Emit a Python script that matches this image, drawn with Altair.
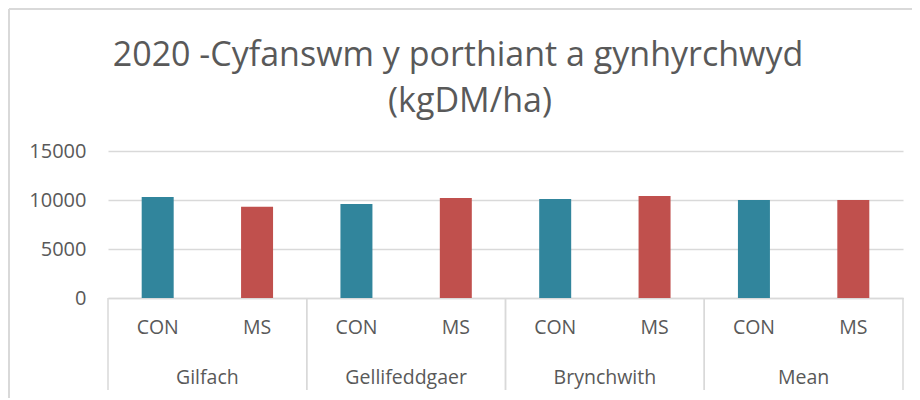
import altair as alt
import pandas as pd

groups = ["Gilfach", "Gellifeddgaer", "Brynchwith", "Mean"]
treatments = ["CON", "MS"]
con_values = [10300, 9600, 10100, 10000]
ms_values = [9300, 10200, 10400, 10000]
title_lines = ["2020 -Cyfanswm y porthiant a gynhyrchwyd", "(kgDM/ha)"]
colors = {"CON": "#31859C", "MS": "#C0504D"}

rows = []
for g, c, m in zip(groups, con_values, ms_values):
    rows.append({"group": g, "treat": "CON", "key": g + "|CON", "value": c})
    rows.append({"group": g, "treat": "MS", "key": g + "|MS", "value": m})
df = pd.DataFrame(rows)
gdf = pd.DataFrame({"group": groups})
keys = list(df["key"])

FONT = "Open Sans"
GRAY = "#595959"
LINE = "#D9D9D9"
W, H = 795, 147

bars = alt.Chart(df).mark_bar().encode(
    x=alt.X("key:N", sort=keys, title=None,
            scale=alt.Scale(paddingInner=0.678, paddingOuter=0.339),
            axis=alt.Axis(labelExpr="split(datum.value, '|')[1]", labelAngle=0,
                          ticks=False, tickSize=0, labelPadding=20,
                          labelFontSize=19.5, labelColor=GRAY, labelFont=FONT,
                          domainColor=LINE, domainWidth=1.5, grid=False)),
    y=alt.Y("value:Q", title=None,
            scale=alt.Scale(domain=[0, 15000]),
            axis=alt.Axis(values=[0, 5000, 10000, 15000], format="d", ticks=False,
                          domain=False, labelPadding=22, labelFontSize=20,
                          labelColor=GRAY, labelFont=FONT, gridColor=LINE,
                          gridWidth=1.5)),
    color=alt.Color("treat:N", legend=None,
                    scale=alt.Scale(domain=treatments,
                                    range=[colors[t] for t in treatments])),
)

gx = alt.X("group:N", sort=groups, axis=None,
           scale=alt.Scale(paddingInner=0, paddingOuter=0))

group_labels = alt.Chart(gdf).mark_text(
    font=FONT, fontSize=19.5, color=GRAY, baseline="middle"
).encode(x=gx, y=alt.value(227), text="group:N")

sep_left = alt.Chart(gdf).mark_rule(color=LINE, strokeWidth=1.5).encode(
    x=alt.X("group:N", sort=groups, axis=None, bandPosition=0,
            scale=alt.Scale(paddingInner=0, paddingOuter=0)),
    y=alt.value(H), y2=alt.value(239))
sep_right = alt.Chart(gdf).mark_rule(color=LINE, strokeWidth=1.5).encode(
    x=alt.X("group:N", sort=groups, axis=None, bandPosition=1,
            scale=alt.Scale(paddingInner=0, paddingOuter=0)),
    y=alt.value(H), y2=alt.value(239))

title1 = alt.Chart(pd.DataFrame({"t": [title_lines[0]]})).mark_text(
    font=FONT, fontSize=34, color=GRAY, baseline="middle", align="center"
).encode(x=alt.value(350), y=alt.value(-95), text="t:N")
title2 = alt.Chart(pd.DataFrame({"t": [title_lines[1]]})).mark_text(
    font=FONT, fontSize=34, color=GRAY, baseline="middle", align="center"
).encode(x=alt.value(362), y=alt.value(-49), text="t:N")

frame_left = alt.Chart(gdf).mark_rule(color=LINE, strokeWidth=2).encode(
    x=alt.value(-99), y=alt.value(-142), y2=alt.value(260))
frame_top = alt.Chart(gdf).mark_rule(color=LINE, strokeWidth=2).encode(
    x=alt.value(-99), x2=alt.value(830), y=alt.value(-142))

chart = alt.layer(
    bars, group_labels, sep_left, sep_right, title1, title2, frame_left, frame_top
).resolve_scale(x="independent").properties(
    width=W, height=H,
    autosize=alt.AutoSizeParams(type="none"),
    padding={"left": 100, "top": 143, "right": 9, "bottom": 100},
).configure_view(stroke=None)

chart.save("out.html", embed_options={"renderer": "svg", "actions": False})
